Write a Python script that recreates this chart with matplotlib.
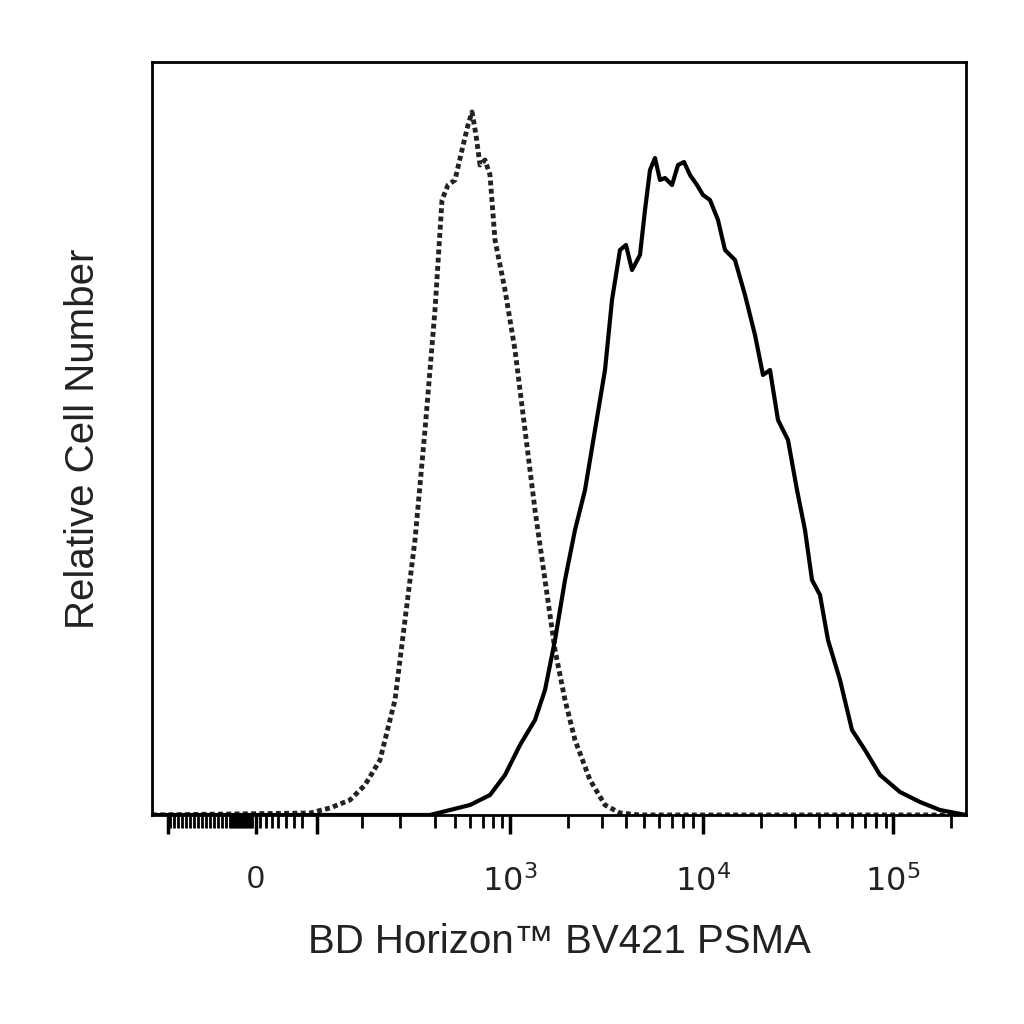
import numpy as np
import matplotlib
matplotlib.use("Agg")
import matplotlib.pyplot as plt

plt.rcParams['font.family'] = ['Liberation Sans', 'DejaVu Sans']

# x in display channels (0..814), y in relative counts (0..753)
iso_x = [0, 158, 178, 198, 213, 228, 243, 253, 263, 273, 283, 290, 296, 303, 310, 316, 320,
         324, 328, 333, 338, 343, 353, 363, 373, 383, 393, 403, 413, 423, 438, 453, 468, 488, 814]
iso_y = [0, 2, 7, 15, 30, 55, 115, 195, 275, 385, 505, 615, 630, 635, 665, 690, 703,
         680, 650, 655, 640, 575, 525, 465, 385, 305, 235, 165, 115, 75, 35, 10, 2, 0, 0]

psma_x = [0, 278, 298, 318, 338, 353, 368, 383, 393, 403, 413, 423, 433, 443, 453, 460, 468,
          474, 480, 488, 493, 498, 503, 508, 513, 520, 526, 532, 538, 545, 551, 558, 566, 573,
          583, 593, 603, 611, 618, 626, 636, 645, 653, 660, 668, 676, 688, 700, 713, 728, 748,
          768, 788, 814]
psma_y = [0, 0, 5, 10, 20, 40, 70, 95, 125, 175, 235, 285, 325, 385, 445, 515, 565,
          570, 545, 560, 605, 645, 657, 635, 637, 630, 650, 653, 640, 630, 620, 615, 595, 565,
          555, 520, 480, 440, 445, 395, 375, 325, 285, 235, 220, 175, 135, 85, 65, 40, 23,
          13, 5, 0]

major_pos = [104, 358, 551, 741]
major_lbl = ['0', r'$10^3$', r'$10^4$', r'$10^5$']
other_major = [16, 165]
lin_minor = [18, 22, 26, 30, 34, 38, 42, 46, 50, 54, 58, 62, 66, 70, 74, 78, 80, 82, 84, 86, 88,
             90, 92, 94, 96, 98, 100, 108, 114, 120, 126, 134, 142, 150]
low_minor = [210, 248, 283, 303, 318, 331, 341, 350]

fig = plt.figure(figsize=(10.24, 10.24), dpi=100)
ax = fig.add_axes([152 / 1024, 1 - 815 / 1024, 814 / 1024, 753 / 1024])
ax.plot(iso_x, iso_y, color='#222222', lw=3.5, linestyle=(0, (1, 0.7)))
ax.plot(psma_x, psma_y, color='black', lw=3)
ax.set_xlim(0, 814)
ax.set_ylim(0, 753)

log_minor = []
for base in [358, 551, 741]:
    for k in range(2, 10):
        p = base + np.log10(k) * 192
        if p < 814:
            log_minor.append(p)

ax.set_xticks(major_pos + other_major)
ax.set_xticklabels(major_lbl + ['', ''])
ax.set_xticks(lin_minor + low_minor + log_minor, minor=True)
ax.tick_params(axis='x', which='major', direction='out', length=14, width=2.5, pad=22,
               labelsize=23, labelcolor='#222222')
ax.tick_params(axis='x', which='minor', direction='out', length=9, width=2)
ax.set_yticks([])
for s in ax.spines.values():
    s.set_linewidth(2)

ax.set_xlabel('BD Horizon™ BV421 PSMA', fontsize=29, color='#222222', labelpad=18)
ax.set_ylabel('Relative Cell Number', fontsize=29, color='#222222', labelpad=36)

fig.savefig('out.png', dpi=100)
